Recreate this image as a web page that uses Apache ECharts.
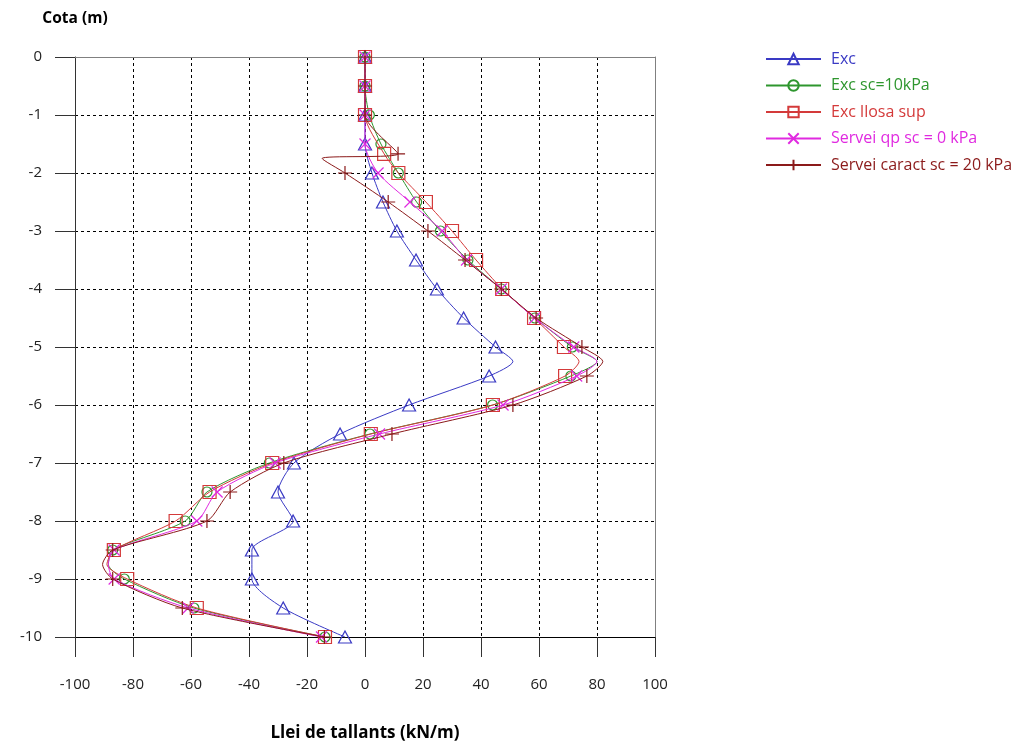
<!DOCTYPE html>
<html>
<head>
<meta charset="utf-8">
<script src="https://cdn.jsdelivr.net/npm/echarts@6/dist/echarts.min.js"></script>
<style>html,body{margin:0;padding:0;background:#fff}#c{width:1017px;height:749px}</style>
</head>
<body>
<div id="c"></div>
<script>
// ---- data ----
const xTitle = 'Llei de tallants (kN/m)';
const yTitle = 'Cota (m)';
const seriesNames = ['Exc', 'Exc sc=10kPa', 'Exc llosa sup', 'Servei qp sc = 0 kPa', 'Servei caract sc = 20 kPa'];

const excDepth = [0,-0.5,-1,-1.5,-2,-2.5,-3,-3.5,-4,-4.5,-5,-5.25,-5.5,-6,-6.5,-7,-7.5,-8,-8.5,-9,-9.5,-10];
const excShear = [0,0,0,0,2.4,6.2,11,17.6,24.8,34,45,51,42.8,15.2,-8.6,-24.5,-30,-24.8,-39,-39,-28.2,-6.9];

const sc10Depth = [0,-0.5,-1,-1.5,-2,-2.5,-3,-3.5,-4,-4.5,-5,-5.25,-5.5,-6,-6.5,-7,-7.5,-8,-8.5,-8.75,-9,-9.5,-10];
const sc10Shear = [0,0,1.5,5.5,11.5,17.8,26,35.5,47,58.6,71.5,80,71,44,1.7,-33,-54.5,-62,-87,-88.5,-83,-59,-13.8];

const llosaDepth = [0,-0.5,-1,-1.67,-2,-2.5,-3,-3.5,-4,-4.5,-5,-5.25,-5.5,-6,-6.5,-7,-7.5,-8,-8.5,-8.75,-9,-9.5,-10];
const llosaShear = [0,0,0,6.6,11.5,21,30,38.3,47.3,58.3,68.6,73.8,69,44.1,2,-32,-53.6,-65.3,-86.6,-89,-82,-58,-13.8];

const qpDepth = [0,-0.5,-1,-1.5,-2,-2.5,-3,-3.5,-4,-4.5,-5,-5.25,-5.5,-6,-6.5,-7,-7.5,-8,-8.5,-8.75,-9,-9.5,-10];
const qpShear = [0,0,0,0,4.5,15.5,26.6,35,47,58.5,72,80,73,47.6,5,-31,-51,-58,-86.5,-88.5,-86.5,-61,-15];

const caractDepth = [0,-0.5,-1,-1.67,-1.75,-2,-2.5,-3,-3.5,-4,-4.5,-5,-5.25,-5.5,-6,-6.5,-7,-7.5,-8,-8.5,-8.75,-9,-9.5,-10];
const caractShear = [0,0,0,11.4,-14.8,-6.9,8,21.7,34.5,47,59,74.8,82,76.5,51,9.3,-28,-46.5,-54.5,-87,-90.5,-87,-63,-14];

// depths that are curve vertices without a marker
const unmarkedDepths = [-5.25, -8.75, -1.75];

// ---- styles ----
const colors = ['#3a3ac4', '#2e962e', '#d43a3a', '#e02ae0', '#8b1a1a'];
const symbols = [
  'path://M5,0 L10,10 L0,10 Z',
  'circle',
  'rect',
  'path://M0,0 L10,10 M10,0 L0,10',
  'path://M5,0 L5,10 M0,5 L10,5'
];
const symbolSizes = [[13,12], 10, 13, 11, 14];

function build(depth, shear) {
  return depth.map((d, i) => {
    const item = { value: [shear[i], d] };
    if (unmarkedDepths.indexOf(d) >= 0) item.symbol = 'none';
    return item;
  });
}
const allData = [
  build(excDepth, excShear),
  build(sc10Depth, sc10Shear),
  build(llosaDepth, llosaShear),
  build(qpDepth, qpShear),
  build(caractDepth, caractShear)
];

const FONT = '"Open Sans", "Noto Sans", sans-serif';

const chart = echarts.init(document.getElementById('c'), null, { renderer: 'canvas', width: 1017, height: 749 });
chart.setOption({
  animation: false,
  backgroundColor: '#fff',
  grid: { left: 75, width: 580, top: 57, height: 580, containLabel: false, outerBoundsMode: 'none' },
  legend: {
    orient: 'vertical',
    left: 760,
    top: 46,
    itemWidth: 55,
    itemHeight: 13,
    itemGap: 10.5,
    data: seriesNames.map((n, i) => ({ name: n, textStyle: { color: colors[i] } })),
    textStyle: { fontFamily: FONT, fontSize: 16, padding: [0, 0, 0, 5] }
  },
  xAxis: [{
    type: 'value', min: -100, max: 100, interval: 20,
    name: xTitle, nameLocation: 'middle', nameGap: 88,
    nameTextStyle: { fontFamily: FONT, fontSize: 17, fontWeight: 'bold', color: '#000' },
    axisLine: { onZero: false, lineStyle: { color: '#000', width: 1 } },
    axisTick: { show: true, length: 20, lineStyle: { color: '#333' } },
    axisLabel: { margin: 40, fontFamily: FONT, fontSize: 15, color: '#222' },
    splitLine: { show: true, showMinLine: false, showMaxLine: false, lineStyle: { color: '#000', type: [3, 3], width: 1 } }
  }, {
    type: 'value', min: -100, max: 100, interval: 20, position: 'top',
    axisLine: { show: true, onZero: false, lineStyle: { color: '#808080' } },
    axisTick: { show: false }, axisLabel: { show: false }, splitLine: { show: false }
  }],
  yAxis: [{
    type: 'value', min: -10, max: 0, interval: 1,
    name: yTitle, nameLocation: 'end', nameGap: 30,
    nameTextStyle: { fontFamily: FONT, fontSize: 15.5, fontWeight: 'bold', color: '#000', align: 'center' },
    axisLine: { show: true, onZero: false, lineStyle: { color: '#333', width: 1 } },
    axisTick: { show: true, length: 20, lineStyle: { color: '#333' } },
    axisLabel: { margin: 33, fontFamily: FONT, fontSize: 15, color: '#222' },
    splitLine: { show: true, showMinLine: false, showMaxLine: false, lineStyle: { color: '#000', type: [3, 3], width: 1 } }
  }, {
    type: 'value', min: -10, max: 0, interval: 1, position: 'right',
    axisLine: { show: true, onZero: false, lineStyle: { color: '#808080' } },
    axisTick: { show: false }, axisLabel: { show: false }, splitLine: { show: false }
  }],
  series: seriesNames.map((n, i) => ({
    name: n,
    type: 'line',
    data: allData[i],
    smooth: 0.25,
    symbol: symbols[i],
    symbolSize: symbolSizes[i],
    showAllSymbol: true,
    lineStyle: { color: colors[i], width: 1 },
    itemStyle: { color: 'rgba(0,0,0,0)', borderColor: colors[i], borderWidth: 1.2 },
    emphasis: { disabled: true },
    z: 2 + i
  }))
});
</script>
</body>
</html>
